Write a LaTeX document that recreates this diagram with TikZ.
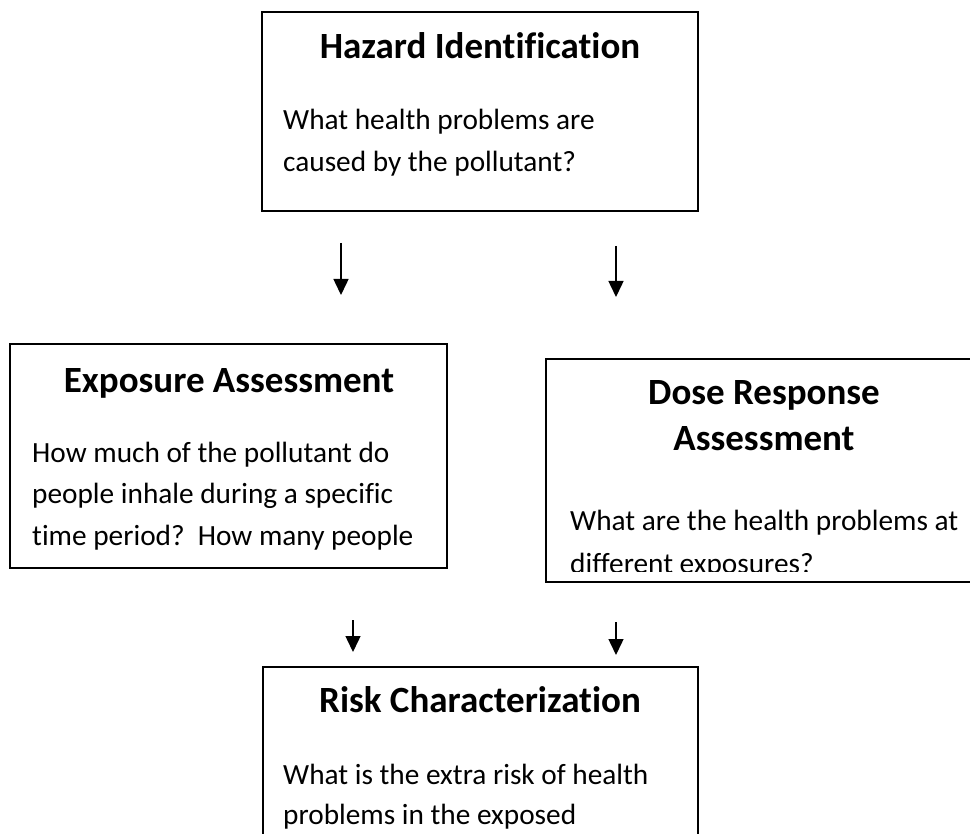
\documentclass[tikz,border=0pt]{standalone}
\usepackage{fontspec}
\setmainfont{Carlito}[Ligatures={NoCommon,NoContextual}]
\usetikzlibrary{arrows.meta}
\tikzset{
  boxframe/.style={draw=black, line width=1.8pt, fill=none},
  titletext/.style={inner sep=0pt, anchor=base, font=\fontsize{37}{45}\selectfont\bfseries},
  bodytext/.style={inner sep=0pt, anchor=base west, font=\fontsize{29.3}{41.5}\selectfont},
  arr/.style={line width=1.5pt, -{Triangle[length=16pt,width=15pt]}}
}
\begin{document}
\begin{tikzpicture}[x=1pt,y=-1pt]
\useasboundingbox (0,0) rectangle (970,834);
% Hazard Identification
\draw[boxframe] (262,12) rectangle (698,211);
\node[titletext] (hazt) at (480,59) {Hazard Identification};
\node[bodytext] (hazb1) at (283,130) {What health problems are};
\node[bodytext] (hazb2) at (283,172) {caused by the pollutant?};
% Exposure Assessment
\draw[boxframe] (10,344) rectangle (447,568);
\node[titletext] (expt) at (229,393) {Exposure Assessment};
\node[bodytext] (expb1) at (32,462) {How much of the pollutant do};
\node[bodytext] (expb2) at (32,503) {people inhale during a specific};
\node[bodytext] (expb3) at (32,545) {time period?\ \ How many people};
% Dose Response Assessment
\draw[boxframe] (546,359) rectangle (1000,582);
\node[titletext] (dost1) at (764,405) {Dose Response};
\node[titletext] (dost2) at (764,450) {Assessment};
\node[bodytext] (dosb1) at (570,530) {What are the health problems at};
\begin{scope}
\clip (546,359) rectangle (970,571);
\node[bodytext] (dosb2) at (570,573) {different exposures?};
\end{scope}
% Risk Characterization
\draw[boxframe] (263,667) rectangle (698,900);
\node[titletext] (riskt) at (480,712) {Risk Characterization};
\node[bodytext] (riskb1) at (283,784) {What is the extra risk of health};
\node[bodytext] (riskb2) at (283,824) {problems in the exposed};
% arrows
\coordinate (a1s) at (341,243); \coordinate (a1e) at (341,295);
\coordinate (a2s) at (616,246); \coordinate (a2e) at (616,297);
\coordinate (a3s) at (353,620); \coordinate (a3e) at (353,652);
\coordinate (a4s) at (616,622); \coordinate (a4e) at (616,655);
\draw[arr] (a1s) -- (a1e);
\draw[arr] (a2s) -- (a2e);
\draw[arr] (a3s) -- (a3e);
\draw[arr] (a4s) -- (a4e);
\end{tikzpicture}
\end{document}
